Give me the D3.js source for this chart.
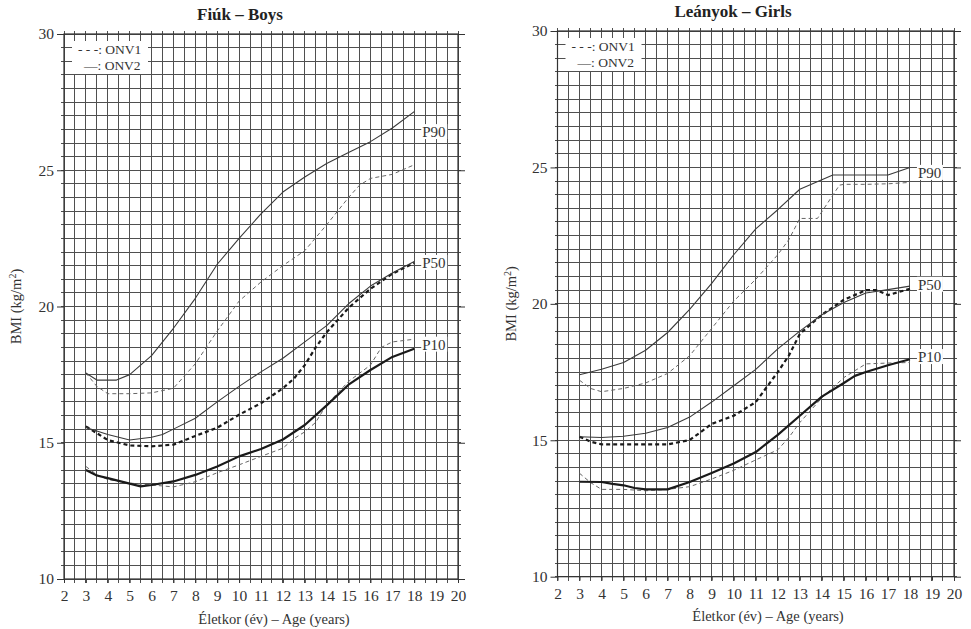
<!DOCTYPE html>
<html>
<head>
<meta charset="utf-8">
<script src="https://cdn.jsdelivr.net/npm/d3@7"></script>
<style>
  html, body { margin: 0; padding: 0; background: #fff; }
  svg { display: block; font-family: "Liberation Serif", "Times New Roman", serif; }
</style>
</head>
<body>
<svg id="chart" width="971" height="629"></svg>
<script>
// ---------- DATA ----------
const xTickLabels = [2,3,4,5,6,7,8,9,10,11,12,13,14,15,16,17,18,19,20];
const yTickLabels = [10,15,20,25,30];
const percentileLabels = ["P90","P50","P10"];

// Boys (Fiúk) — [age, BMI]
const boysP90_ONV1 = [[3,17.56],[3.5,17.07],[4,16.8],[5,16.8],[6,16.83],[7,17.0],[8,17.9],[9,19.1],[10,20.2],[11,20.9],[12,21.5],[13,22.05],[14,23.0],[15,24.0],[15.5,24.45],[16,24.7],[17,24.85],[18,25.2]];
const boysP90_ONV2 = [[3,17.56],[3.5,17.3],[4.4,17.3],[5,17.5],[6,18.2],[7,19.2],[8,20.3],[9,21.55],[10,22.5],[11,23.4],[12,24.2],[13,24.75],[14,25.25],[15,25.65],[16,26.05],[17,26.55],[18,27.15]];
const boysP50_ONV1 = [[3,15.6],[3.5,15.35],[4,15.1],[5,14.9],[6,14.87],[7,14.93],[8,15.25],[9,15.55],[10,16.03],[11,16.45],[12,17.0],[12.5,17.35],[13,17.85],[13.5,18.5],[14,19.05],[15,19.95],[16,20.65],[17,21.2],[18,21.6]];
const boysP50_ONV2 = [[3,15.56],[4,15.3],[5,15.1],[6,15.2],[6.5,15.3],[7,15.5],[8,15.9],[9,16.5],[10,17.07],[11,17.6],[12,18.1],[13,18.7],[14,19.3],[15,20.1],[16,20.75],[17,21.23],[18,21.65]];
const boysP10_ONV1 = [[3,14.13],[3.5,13.83],[4,13.65],[5,13.52],[6,13.45],[7,13.38],[8,13.57],[9,13.9],[10,14.19],[11,14.5],[12,14.8],[12.5,15.15],[13,15.4],[13.5,15.75],[14,16.4],[15,17.25],[16,17.85],[16.5,18.5],[17,18.7],[18,18.8]];
const boysP10_ONV2 = [[3,14.0],[3.5,13.8],[4,13.7],[5,13.5],[5.5,13.4],[6,13.45],[7,13.58],[8,13.82],[9,14.13],[10,14.5],[11,14.77],[12,15.12],[13,15.65],[14,16.37],[15,17.13],[16,17.67],[17,18.15],[18,18.45]];

// Girls (Leányok) — [age, BMI]
const girlsP90_ONV1 = [[3,17.2],[3.5,16.9],[4,16.78],[5,16.9],[6,17.1],[7,17.45],[8,18.1],[9,19.1],[10,20.1],[11,20.9],[12,21.8],[12.5,22.35],[13,23.13],[13.8,23.13],[14.8,24.35],[15,24.38],[16,24.38],[17,24.4],[18,24.45]];
const girlsP90_ONV2 = [[3,17.4],[4,17.6],[5,17.85],[6,18.3],[7,18.95],[8,19.8],[9,20.75],[10,21.8],[11,22.75],[12,23.45],[13,24.2],[14,24.55],[14.5,24.72],[15,24.72],[16,24.72],[17,24.72],[18,25.0]];
const girlsP50_ONV1 = [[3,15.13],[3.5,14.95],[4,14.85],[5,14.85],[6,14.85],[7,14.85],[8,15.01],[8.5,15.3],[9,15.6],[10,15.9],[11,16.4],[11.5,16.95],[12,17.5],[12.5,18.1],[13,18.9],[14,19.6],[15,20.15],[16,20.5],[16.5,20.5],[17,20.32],[18,20.55]];
const girlsP50_ONV2 = [[3,15.13],[4,15.1],[5,15.15],[6,15.26],[7,15.47],[8,15.85],[9,16.4],[10,17.0],[11,17.6],[12,18.35],[13,19.0],[14,19.6],[15,20.05],[16,20.4],[17,20.52],[18,20.65]];
const girlsP10_ONV1 = [[3,13.79],[3.5,13.45],[4,13.2],[5,13.2],[6,13.15],[7,13.2],[8,13.3],[9,13.58],[10,13.9],[11,14.28],[12,14.65],[12.5,15.1],[13,15.65],[14,16.55],[15,17.3],[16,17.8],[17,17.83],[18,17.85]];
const girlsP10_ONV2 = [[3,13.48],[4,13.47],[4.5,13.4],[5,13.35],[5.5,13.25],[6,13.2],[7,13.2],[8,13.47],[9,13.8],[10,14.15],[11,14.57],[12,15.2],[13,15.9],[14,16.6],[15,17.1],[15.5,17.36],[16,17.5],[17,17.75],[18,17.97]];

// ---------- DRAWING ----------
const svg = d3.select("#chart");
const gridColor = "#4f4f4f";

const styles = {
  thinSolid:  { w: 1.1, dash: null, c: "#3a3a3a" },
  thinDash:   { w: 1.0, dash: "4,3", c: "#666" },
  thickSolid: { w: 2.2, dash: null, c: "#1a1a1a" },
  thickDash:  { w: 2.2, dash: "4,3", c: "#1a1a1a" }
};

function panel(cfg) {
  const x = d3.scaleLinear().domain([2, 20]).range([cfg.x0, cfg.x1]);
  const y = d3.scaleLinear().domain([10, 30]).range([cfg.y0, cfg.y1]);
  const g = svg.append("g");

  // grid every 0.5 unit
  const gx = d3.range(2, 20.01, 0.5);
  const gy = d3.range(10, 30.01, 0.5);
  g.append("g").selectAll("line").data(gx).join("line")
    .attr("x1", d => x(d)).attr("x2", d => x(d))
    .attr("y1", y(30) - 3).attr("y2", y(10) + 4)
    .attr("stroke", gridColor).attr("stroke-width", 1).attr("shape-rendering", "crispEdges");
  g.append("g").selectAll("line").data(gy).join("line")
    .attr("x1", x(2) - 3).attr("x2", x(20) + 3)
    .attr("y1", d => y(d)).attr("y2", d => y(d))
    .attr("stroke", gridColor).attr("stroke-width", 1).attr("shape-rendering", "crispEdges");

  // frame
  g.append("rect").attr("x", x(2)).attr("y", y(30))
    .attr("width", x(20) - x(2)).attr("height", y(10) - y(30))
    .attr("fill", "none").attr("stroke", "#333").attr("stroke-width", 1.2);

  // axes
  const ya = d3.axisLeft(y).tickValues(yTickLabels).tickSize(7).tickPadding(3);
  const yg = g.append("g").attr("transform", `translate(${x(2)},0)`).call(ya);
  yg.select(".domain").remove();
  yg.selectAll("line").attr("stroke", "#333");
  yg.selectAll("text").attr("font-size", 15.5).attr("fill", "#333")
    .attr("font-family", "Liberation Serif");
  const yr = d3.axisRight(y).tickValues(yTickLabels).tickSize(7).tickFormat("");
  const yrg = g.append("g").attr("transform", `translate(${x(20)},0)`).call(yr);
  yrg.select(".domain").remove();
  yrg.selectAll("line").attr("stroke", "#333");

  const xa = d3.axisBottom(x).tickValues(xTickLabels).tickSize(4).tickPadding(7);
  const xg = g.append("g").attr("transform", `translate(0,${y(10)})`).call(xa);
  xg.select(".domain").remove();
  xg.selectAll("line").attr("stroke", "#333");
  xg.selectAll("text").attr("font-size", 15.5).attr("fill", "#333")
    .attr("font-family", "Liberation Serif");

  // title
  g.append("text").attr("x", cfg.titleX).attr("y", cfg.titleY)
    .attr("text-anchor", "middle").attr("font-weight", "bold").attr("font-size", 17)
    .attr("fill", "#222").text(cfg.title);

  // axis titles
  g.append("text").attr("x", cfg.xLabelX).attr("y", cfg.xLabelY)
    .attr("text-anchor", "middle").attr("font-size", 14.5).attr("fill", "#333")
    .text("Életkor (év) – Age (years)");
  const yl = g.append("text")
    .attr("transform", `translate(${cfg.yLabelX},${(y(10) + y(30)) / 2}) rotate(-90)`)
    .attr("text-anchor", "middle").attr("font-size", 14.5).attr("fill", "#333");
  yl.append("tspan").text("BMI (kg/m");
  yl.append("tspan").attr("dy", -5).attr("font-size", 10).text("2");
  yl.append("tspan").attr("dy", 5).text(")");

  // legend
  const lg = g.append("g");
  lg.append("rect").attr("x", x(2) + 8).attr("y", y(30) + 7)
    .attr("width", 76).attr("height", 33).attr("fill", "#fff");
  lg.append("text").attr("x", x(2) + cfg.legDx).attr("y", y(30) + 20)
    .attr("font-size", 13.5).attr("fill", "#333").text("- - -: ONV1");
  lg.append("text").attr("x", x(2) + cfg.legDx + 6).attr("y", y(30) + 36)
    .attr("font-size", 13.5).attr("fill", "#333").text("—: ONV2");

  // series
  const line = d3.line().x(d => x(d[0])).y(d => y(d[1]));
  cfg.series.forEach(s => {
    const st = styles[s.style];
    g.append("path").datum(s.data).attr("d", line)
      .attr("fill", "none").attr("stroke", st.c).attr("stroke-width", st.w)
      .attr("stroke-dasharray", st.dash).attr("stroke-linejoin", "round");
  });

  // percentile labels
  cfg.labels.forEach((lv, i) => {
    const lx = x(18) + 7, ly = y(lv);
    g.append("rect").attr("x", lx).attr("y", ly - 8).attr("width", 26).attr("height", 15).attr("fill", "#fff");
    g.append("text").attr("x", lx + 1).attr("y", ly + 5)
      .attr("font-size", 15).attr("fill", "#333").text(percentileLabels[i]);
  });
}

panel({
  x0: 64, x1: 458, y0: 579, y1: 34,
  title: "Fiúk – Boys", titleX: 240, titleY: 20,
  xLabelX: 274, xLabelY: 624, yLabelX: 21, legDx: 14,
  labels: [26.4, 21.6, 18.6],
  series: [
    { data: boysP90_ONV1, style: "thinDash" },
    { data: boysP90_ONV2, style: "thinSolid" },
    { data: boysP50_ONV1, style: "thickDash" },
    { data: boysP50_ONV2, style: "thinSolid" },
    { data: boysP10_ONV1, style: "thinDash" },
    { data: boysP10_ONV2, style: "thickSolid" }
  ]
});

panel({
  x0: 557.5, x1: 954, y0: 576.7, y1: 31,
  title: "Leányok – Girls", titleX: 733, titleY: 17,
  xLabelX: 768, xLabelY: 621, yLabelX: 516, legDx: 14,
  labels: [24.8, 20.7, 18.05],
  series: [
    { data: girlsP90_ONV1, style: "thinDash" },
    { data: girlsP90_ONV2, style: "thinSolid" },
    { data: girlsP50_ONV1, style: "thickDash" },
    { data: girlsP50_ONV2, style: "thinSolid" },
    { data: girlsP10_ONV1, style: "thinDash" },
    { data: girlsP10_ONV2, style: "thickSolid" }
  ]
});
</script>
</body>
</html>
